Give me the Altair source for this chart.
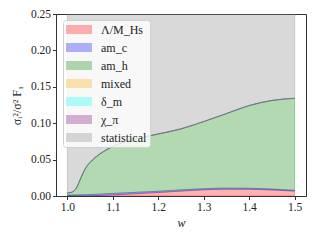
import altair as alt
import pandas as pd

w = [1.00, 1.01, 1.02, 1.03, 1.04, 1.05, 1.06, 1.08, 1.10, 1.13, 1.17, 1.20, 1.25, 1.30, 1.35, 1.40, 1.45, 1.50]

lam_mhs = [0.0, 0.0, 0.0, 0.0001, 0.0002, 0.0003, 0.0005, 0.001, 0.0015, 0.0025, 0.0038, 0.0048, 0.0068, 0.0085, 0.0093, 0.0092, 0.0083, 0.0068]
am_c = [0.0012, 0.0013, 0.0014, 0.0015, 0.0016, 0.0017, 0.0018, 0.0019, 0.0020, 0.0019, 0.0018, 0.0017, 0.0016, 0.0015, 0.0015, 0.0014, 0.0012, 0.0010]
am_h = [0.0028, 0.0037, 0.0096, 0.0234, 0.0362, 0.0440, 0.0497, 0.0581, 0.0645, 0.0706, 0.0754, 0.0785, 0.0836, 0.0920, 0.1022, 0.1134, 0.1215, 0.1262]
mixed = [0.0001] * 18
delta_m = [0.0001] * 18
chi_pi = [0.0002] * 18
statistical = [0.36, 0.36, 0.35, 0.34, 0.33, 0.32, 0.31, 0.30, 0.30, 0.29, 0.29, 0.28, 0.28, 0.28, 0.28, 0.28, 0.28, 0.28]

names = ["Λ/M_Hs", "am_c", "am_h", "mixed", "δ_m", "χ_π", "statistical"]
colors = ["#ff0000", "#0000ff", "#008000", "#ffa500", "#00ffff", "#800080", "#808080"]
series = [lam_mhs, am_c, am_h, mixed, delta_m, chi_pi, statistical]

rows = []
for k, (name, vals) in enumerate(zip(names, series)):
    for wi, v in zip(w, vals):
        rows.append({"w": wi, "v": v, "src": name, "k": k})
df = pd.DataFrame(rows)

serif = "Liberation Serif"

chart = alt.Chart(df).mark_area(
    fillOpacity=0.3, strokeOpacity=0.3, strokeWidth=1, interpolate="monotone", clip=True
).encode(
    x=alt.X("w:Q", scale=alt.Scale(domain=[0.975, 1.525], nice=False, zero=False),
            axis=alt.Axis(values=[1.0, 1.1, 1.2, 1.3, 1.4, 1.5], format=".1f", title="w",
                          titleFontStyle="italic", titleY=26, titleBaseline="middle")),
    y=alt.Y("v:Q", stack="zero", scale=alt.Scale(domain=[0, 0.25], nice=False),
            axis=alt.Axis(values=[0, 0.05, 0.10, 0.15, 0.20, 0.25], format=".2f",
                          title="σᵢ²/σ² F₁", titleX=-40, titleY=91, titleBaseline="middle")),
    color=alt.Color("src:N", scale=alt.Scale(domain=names, range=colors),
                    legend=alt.Legend(title=None, orient="none", legendX=7, legendY=6,
                                      symbolType="M-1,-0.69H3V0.69H-1Z", symbolSize=169,
                                      symbolOpacity=0.3, symbolStrokeWidth=0,
                                      labelFont=serif, labelFontSize=12, labelOffset=22,
                                      labelColor="#222", padding=3, rowPadding=5,
                                      fillColor="rgba(255,255,255,0.8)", strokeColor="#d0d0d0",
                                      cornerRadius=3)),
    stroke=alt.Stroke("src:N", scale=alt.Scale(domain=names, range=colors), legend=None),
    order=alt.Order("k:Q", sort="ascending"),
).properties(
    width=250, height=182,
    padding={"left": 48, "top": 6, "right": 6, "bottom": 36},
    autosize="none",
).configure_view(stroke="#333", strokeWidth=1).configure_axis(
    grid=False, domainColor="#333", tickColor="#333", tickSize=3.5,
    labelFont=serif, labelFontSize=11.5, labelColor="#222",
    titleFont=serif, titleFontSize=12, titleColor="#222", titleFontWeight="normal",
)

chart.save("out.html", embed_options={"renderer": "svg", "actions": False})
